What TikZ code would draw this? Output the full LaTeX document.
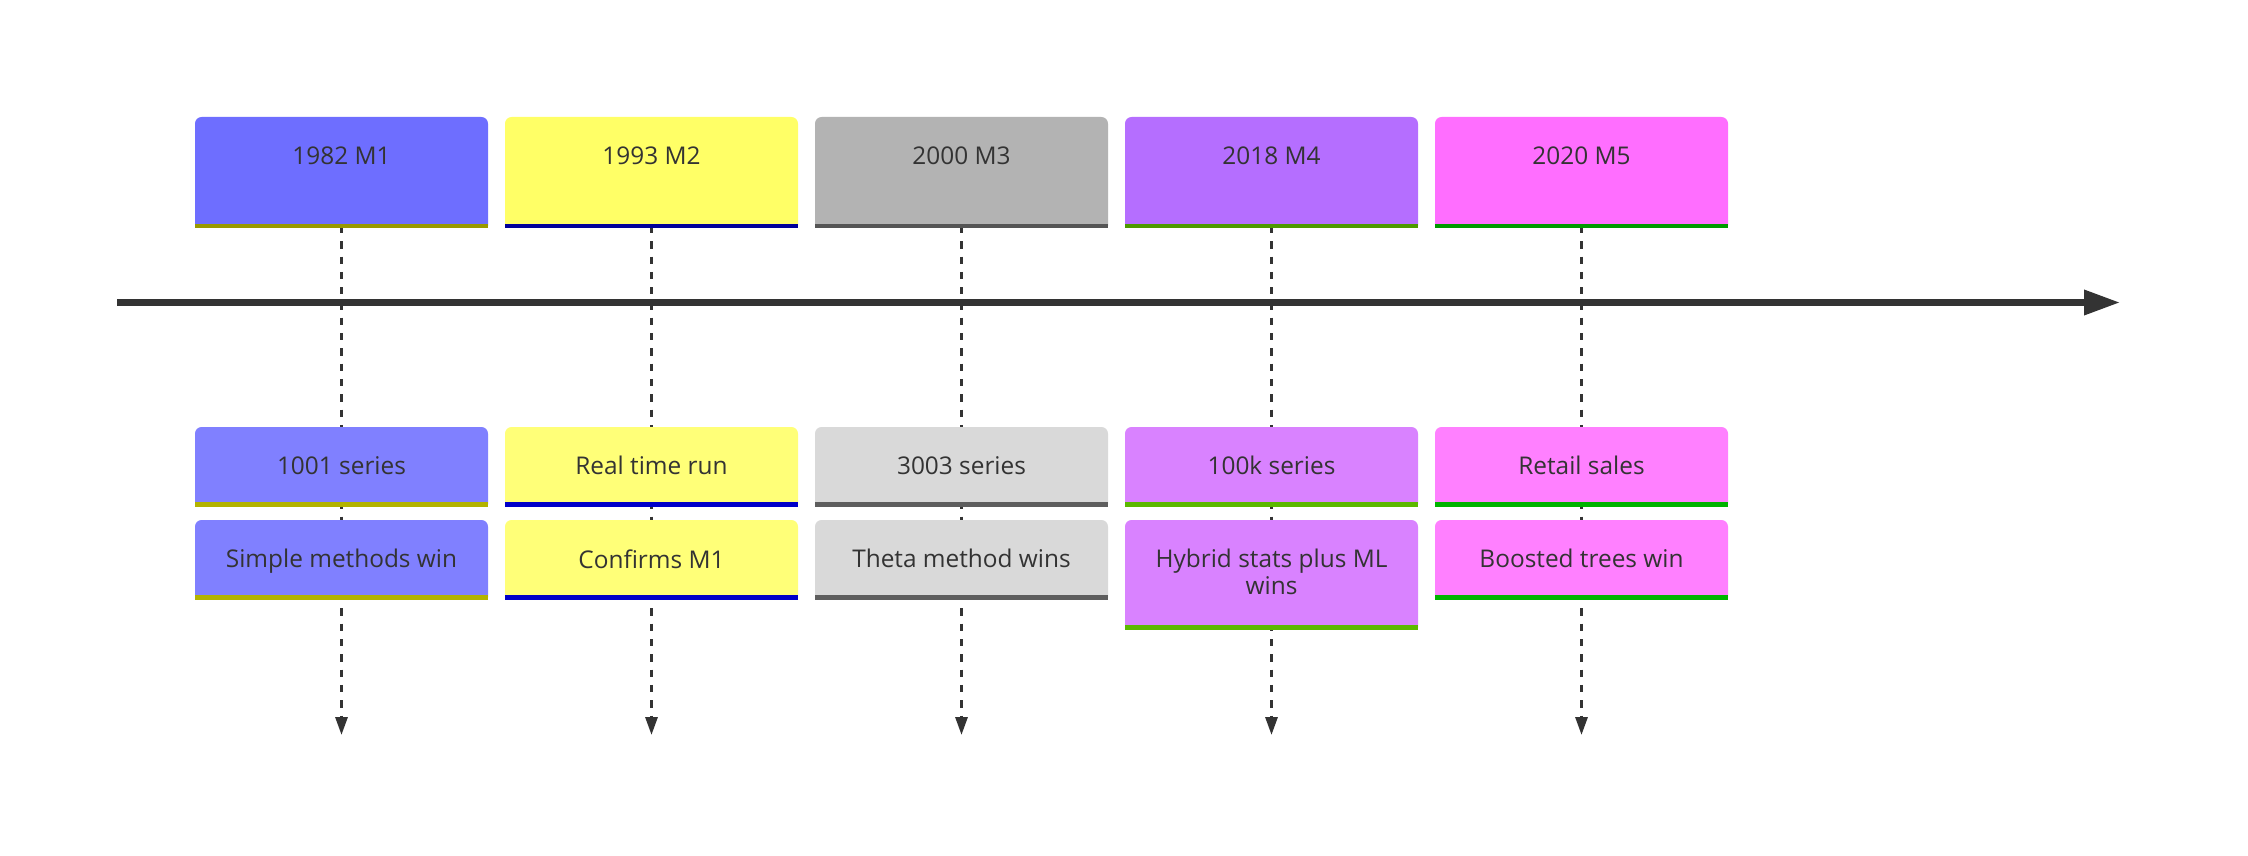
\documentclass[tikz,border=0pt]{standalone}
\usepackage{fontspec}
\setmainfont{Open Sans}
\usepackage{tikz}
\usetikzlibrary{arrows.meta}
\usetikzlibrary{backgrounds}

\definecolor{ink}{HTML}{333333}
\definecolor{M1top}{HTML}{6E6EFF}  \definecolor{M1low}{HTML}{8080FF}
\definecolor{M1rule}{HTML}{999900} \definecolor{M1lowrule}{HTML}{B3B300}
\definecolor{M2top}{HTML}{FFFF66}  \definecolor{M2low}{HTML}{FFFF78}
\definecolor{M2rule}{HTML}{000099} \definecolor{M2lowrule}{HTML}{0000C8}
\definecolor{M3top}{HTML}{B3B3B3}  \definecolor{M3low}{HTML}{D9D9D9}
\definecolor{M3rule}{HTML}{555555} \definecolor{M3lowrule}{HTML}{5E5E5E}
\definecolor{M4top}{HTML}{B56EFF}  \definecolor{M4low}{HTML}{D982FF}
\definecolor{M4rule}{HTML}{4D9900} \definecolor{M4lowrule}{HTML}{5CB800}
\definecolor{M5top}{HTML}{FF6EFF}  \definecolor{M5low}{HTML}{FF80FF}
\definecolor{M5rule}{HTML}{009900} \definecolor{M5lowrule}{HTML}{00B300}

\tikzset{card/.style={anchor=north, inner sep=0pt, text=ink, align=center, font=\fontsize{12.2pt}{13.5pt}\selectfont},
  cardfill/.style={rounded corners=3.3pt},
  rule/.style={line width=2.25pt},
  dashline/.style={draw=ink, line width=1.5pt, dash pattern=on 3.65pt off 4pt, -{Triangle[length=9pt,width=6pt]}},
  timeaxis/.style={draw=ink, line width=3.3pt, -{Triangle[length=18pt,width=12pt]}}}

\begin{document}
\begin{tikzpicture}[x=0.5pt, y=-0.5pt]
    \useasboundingbox (0, 0) rectangle (2248, 856);

    % milestones
    \node[card] at (341.5, 146) (M1) {1982 M1};
    \node[card] at (651.5, 146) (M2) {1993 M2};
    \node[card] at (961.5, 146) (M3) {2000 M3};
    \node[card] at (1271.5, 146) (M4) {2018 M4};
    \node[card] at (1581.5, 146) (M5) {2020 M5};

    % data
    \node[card] at (341.5, 456) (M1a) {1001 series};
    \node[card] at (651.5, 456) (M2a) {Real time run};
    \node[card] at (961.5, 456) (M3a) {3003 series};
    \node[card] at (1271.5, 456) (M4a) {100k series};
    \node[card] at (1581.5, 456) (M5a) {Retail sales};

    % findings
    \node[card] at (341.5, 549) (M1b) {Simple methods win};
    \node[card] at (651.5, 549) (M2b) {Confirms M1};
    \node[card] at (961.5, 549) (M3b) {Theta method wins};
    \node[card] at (1271.5, 549) (M4b) {Hybrid stats plus ML\\ wins};
    \node[card] at (1581.5, 549) (M5b) {Boosted trees win};

    \coordinate (M1end) at (341.5, 735);
    \coordinate (M2end) at (651.5, 735);
    \coordinate (M3end) at (961.5, 735);
    \coordinate (M4end) at (1271.5, 735);
    \coordinate (M5end) at (1581.5, 735);
    \coordinate (axisstart) at (117, 302.5);
    \coordinate (axisend) at (2120, 302.5);

    \begin{scope}[on background layer]
    \draw[dashline] (M1) -- (M1end);
    \draw[dashline] (M2) -- (M2end);
    \draw[dashline] (M3) -- (M3end);
    \draw[dashline] (M4) -- (M4end);
    \draw[dashline] (M5) -- (M5end);
    \draw[timeaxis] (axisstart) -- (axisend);

    \fill[cardfill, M1top] (195, 225.75) |- (341.5, 117) -| (488, 225.75);
    \fill[cardfill, M2top] (505, 225.75) |- (651.5, 117) -| (798, 225.75);
    \fill[cardfill, M3top] (815, 225.75) |- (961.5, 117) -| (1108, 225.75);
    \fill[cardfill, M4top] (1125, 225.75) |- (1271.5, 117) -| (1418, 225.75);
    \fill[cardfill, M5top] (1435, 225.75) |- (1581.5, 117) -| (1728, 225.75);
    \draw[rule, M1rule] (195, 225.75) -- (488, 225.75);
    \draw[rule, M2rule] (505, 225.75) -- (798, 225.75);
    \draw[rule, M3rule] (815, 225.75) -- (1108, 225.75);
    \draw[rule, M4rule] (1125, 225.75) -- (1418, 225.75);
    \draw[rule, M5rule] (1435, 225.75) -- (1728, 225.75);

    \fill[cardfill, M1low] (195, 504.25) |- (341.5, 427) -| (488, 504.25);
    \fill[cardfill, M2low] (505, 504.25) |- (651.5, 427) -| (798, 504.25);
    \fill[cardfill, M3low] (815, 504.25) |- (961.5, 427) -| (1108, 504.25);
    \fill[cardfill, M4low] (1125, 504.25) |- (1271.5, 427) -| (1418, 504.25);
    \fill[cardfill, M5low] (1435, 504.25) |- (1581.5, 427) -| (1728, 504.25);
    \draw[rule, M1lowrule] (195, 504.25) -- (488, 504.25);
    \draw[rule, M2lowrule] (505, 504.25) -- (798, 504.25);
    \draw[rule, M3lowrule] (815, 504.25) -- (1108, 504.25);
    \draw[rule, M4lowrule] (1125, 504.25) -- (1418, 504.25);
    \draw[rule, M5lowrule] (1435, 504.25) -- (1728, 504.25);

    \fill[cardfill, M1low] (195, 597.25) |- (341.5, 520) -| (488, 597.25);
    \fill[cardfill, M2low] (505, 597.25) |- (651.5, 520) -| (798, 597.25);
    \fill[cardfill, M3low] (815, 597.25) |- (961.5, 520) -| (1108, 597.25);
    \fill[cardfill, M4low] (1125, 627.25) |- (1271.5, 520) -| (1418, 627.25);
    \fill[cardfill, M5low] (1435, 597.25) |- (1581.5, 520) -| (1728, 597.25);
    \draw[rule, M1lowrule] (195, 597.25) -- (488, 597.25);
    \draw[rule, M2lowrule] (505, 597.25) -- (798, 597.25);
    \draw[rule, M3lowrule] (815, 597.25) -- (1108, 597.25);
    \draw[rule, M4lowrule] (1125, 627.25) -- (1418, 627.25);
    \draw[rule, M5lowrule] (1435, 597.25) -- (1728, 597.25);
    \end{scope}
\end{tikzpicture}
\end{document}
